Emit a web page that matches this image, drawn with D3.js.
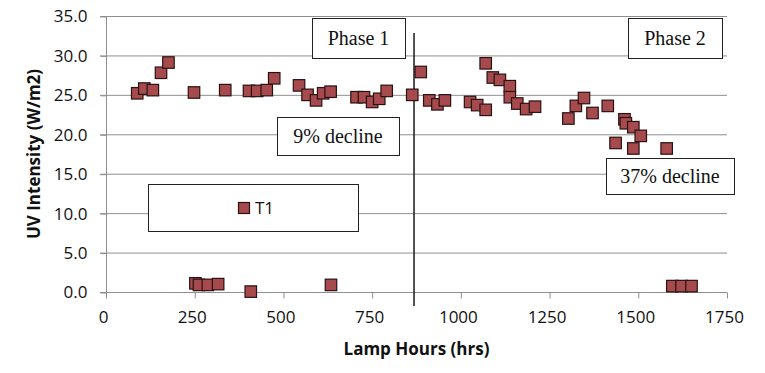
<!DOCTYPE html>
<html>
<head>
<meta charset="utf-8">
<script src="https://cdn.jsdelivr.net/npm/d3@7"></script>
<style>
	body{margin:0;background:#fff;}
	svg{display:block;}
</style>
</head>
<body>
<svg id="chart" width="765" height="373"></svg>
<script>

var lampHours = [88,108,132,155,176,248,336,403,426,453,474,544,568,592,612,633,706,727,750,770,791,863,
	887,911,934,955,1026,1046,1070,1070,1090,1110,1138,1138,1159,1184,1209,1303,1324,1347,1371,1414,1436,
	1461,1465,1486,1486,1507,1580,
	252,262,287,316,408,634,1596,1622,1650];
var uvIntensity = [25.2,25.8,25.6,27.8,29.1,25.3,25.6,25.5,25.5,25.6,27.1,26.2,25.0,24.3,25.2,25.4,24.7,24.7,24.1,24.5,25.5,25.0,
	27.9,24.3,23.8,24.3,24.1,23.7,23.1,29.0,27.2,26.9,26.1,24.7,23.9,23.2,23.5,22.0,23.6,24.6,22.7,23.6,18.9,
	21.9,21.4,20.9,18.2,19.8,18.2,
	1.1,0.9,0.9,1.0,0.05,0.9,0.75,0.75,0.75];

var xTicks = [0,250,500,750,1000,1250,1500,1750];
var yTicks = [0,5,10,15,20,25,30,35];
var phaseSplit = 868;
var seriesName = "T1";
var notes = ["Phase 1","Phase 2","9% decline","37% decline"];

var fillColor = "#a64a4e",
	strokeColor = "#2a1212",
	gridColor = "#8f8f8f";

var svg = d3.select("#chart");
var plotLeft = 106, plotRight = 727, plotTop = 16, plotBottom = 292;

var x = d3.scaleLinear().domain([0,1750]).range([plotLeft,plotRight]);
var y = d3.scaleLinear().domain([0,35]).range([plotBottom,plotTop]);

var points = lampHours.map(function(h,i){ return {h:h, v:uvIntensity[i]}; });

// horizontal grid
svg.append("g")
	.selectAll("line").data(yTicks.filter(function(d){return d>0;}))
	.enter().append("line")
	.attr("x1",plotLeft-6).attr("x2",plotRight)
	.attr("y1",function(d){return y(d)+0.5}).attr("y2",function(d){return y(d)+0.5})
	.attr("stroke",gridColor).attr("stroke-width",1);

// y axis
var yAxis = svg.append("g")
	.attr("transform","translate("+(plotLeft+0.5)+",0.5)")
	.call(d3.axisLeft(y).tickValues(yTicks).tickSize(6).tickPadding(12).tickFormat(d3.format(".1f")));
yAxis.select(".domain").attr("stroke",gridColor).attr("d","M0,"+plotTop+"V"+plotBottom);
yAxis.selectAll(".tick line").attr("stroke",gridColor);
yAxis.selectAll("text")
	.style("font-family","'Open Sans'").style("font-size","17px").attr("fill","#111")
	.attr("dx","-1");

// x axis
var xAxis = svg.append("g")
	.attr("transform","translate(0,"+(plotBottom+0.5)+")")
	.call(d3.axisBottom(x).tickValues(xTicks).tickSize(6).tickPadding(12).tickFormat(d3.format("d")));
xAxis.select(".domain").attr("stroke",gridColor).attr("d","M"+(plotLeft-6)+",0H"+plotRight);
xAxis.selectAll(".tick line").attr("stroke",gridColor);
xAxis.selectAll("text")
	.style("font-family","'Open Sans'").style("font-size","17px").attr("fill","#111")
	.attr("dx","-3");

// axis titles
svg.append("text")
	.attr("transform","translate(34,"+((plotTop+plotBottom)/2)+") rotate(-90)")
	.attr("text-anchor","middle").attr("dy","0.35em")
	.style("font-family","'Open Sans'").style("font-size","17px").style("font-weight","bold")
	.attr("fill","#111")
	.text("UV Intensity (W/m2)");

svg.append("text")
	.attr("x",(plotLeft+plotRight)/2).attr("y",355)
	.attr("text-anchor","middle")
	.style("font-family","'Open Sans'").style("font-size","17px").style("font-weight","bold")
	.attr("fill","#111")
	.text("Lamp Hours (hrs)");

// phase boundary
svg.append("line")
	.attr("x1",x(phaseSplit)).attr("x2",x(phaseSplit))
	.attr("y1",33).attr("y2",306)
	.attr("stroke","#1a1a1a").attr("stroke-width",1.5);

// text boxes: [x, y, w, h]
var boxes = [
	{t:notes[0], b:[312,18,93,40]},
	{t:notes[1], b:[628,18,94,40]},
	{t:notes[2], b:[277,117,122,38]},
	{t:notes[3], b:[606,158,128,36]}
];

var boxG = svg.append("g").selectAll("g").data(boxes).enter().append("g");
boxG.append("rect")
	.attr("x",function(d){return d.b[0]+0.5}).attr("y",function(d){return d.b[1]+0.5})
	.attr("width",function(d){return d.b[2]}).attr("height",function(d){return d.b[3]})
	.attr("fill","#fff").attr("stroke","#222").attr("stroke-width",1);
boxG.append("text")
	.attr("x",function(d){return d.b[0]+d.b[2]/2}).attr("y",function(d){return d.b[1]+d.b[3]/2})
	.attr("text-anchor","middle").attr("dy","0.35em")
	.style("font-family","'Liberation Serif'").style("font-size","20px")
	.attr("fill","#111")
	.text(function(d){return d.t});

// legend box
var legend = svg.append("g");
legend.append("rect")
	.attr("x",148.5).attr("y",184.5).attr("width",210).attr("height",47)
	.attr("fill","#fff").attr("stroke","#222").attr("stroke-width",1);
legend.append("rect")
	.attr("x",238.5).attr("y",202.5).attr("width",11).attr("height",11)
	.attr("fill",fillColor).attr("stroke",strokeColor).attr("stroke-width",1.2);
legend.append("text")
	.attr("x",255).attr("y",208).attr("dy","0.35em")
	.style("font-family","'Open Sans'").style("font-size","17px")
	.attr("fill","#111")
	.text(seriesName);

// markers
var size = 11.5;
svg.append("g")
	.selectAll("rect").data(points)
	.enter().append("rect")
	.attr("x",function(d){return x(d.h)-size/2})
	.attr("y",function(d){return y(d.v)-size/2})
	.attr("width",size).attr("height",size)
	.attr("fill",fillColor).attr("stroke",strokeColor).attr("stroke-width",1.2)
	.append("title")
	.text(function(d){return d.h+" hrs: "+d.v});

</script>
</body>
</html>
